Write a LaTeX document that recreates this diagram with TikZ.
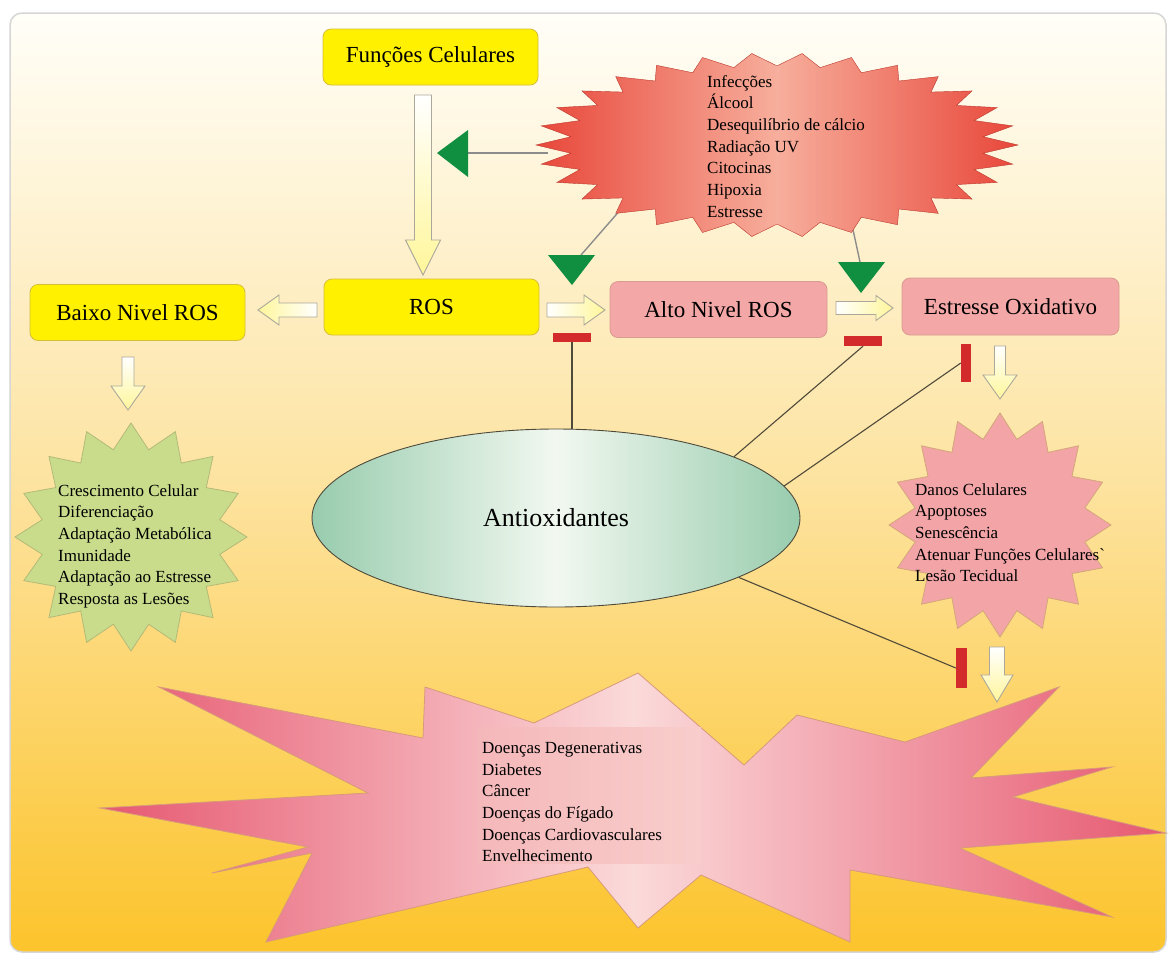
\documentclass[tikz,border=0pt]{standalone}
\usepackage{fontspec}
\setmainfont{Liberation Serif}
\usetikzlibrary{shapes.geometric}
\definecolor{bgtop}{HTML}{FFFEF8}
\definecolor{bgmid}{HTML}{FDE3A0}
\definecolor{bgbot}{HTML}{FCC42C}
\definecolor{panelline}{HTML}{D6D6D6}
\definecolor{boxyellow}{HTML}{FFF100}
\definecolor{yellowline}{HTML}{D6BE3A}
\definecolor{boxpink}{HTML}{F4A7A7}
\definecolor{pinkline}{HTML}{D99A8F}
\definecolor{arrowpale}{HTML}{FFF69A}
\definecolor{arrowline}{HTML}{ABA89B}
\definecolor{trigreen}{HTML}{108F41}
\definecolor{barred}{HTML}{D32B2B}
\definecolor{burstred}{HTML}{E8473A}
\definecolor{burstlight}{HTML}{F7AE9C}
\definecolor{starpink}{HTML}{F2A4A7}
\definecolor{starpinkline}{HTML}{D4A77A}
\definecolor{stargreen}{HTML}{C8DC8C}
\definecolor{stargreenline}{HTML}{B3BA78}
\definecolor{boomred}{HTML}{E65870}
\definecolor{boomlight}{HTML}{FBDADA}
\definecolor{boomline}{HTML}{D79A7A}
\definecolor{dzpink}{HTML}{F5B8BA}
\definecolor{dzlight}{HTML}{F8CDCB}
\definecolor{ellgreen}{HTML}{98CCAE}
\definecolor{ellpale}{HTML}{F2F8F0}
\definecolor{linkgray}{HTML}{8C8C8C}
\definecolor{antiline}{HTML}{4F4A3A}
\tikzset{
  panel/.style={draw=panelline, line width=1.5pt, rounded corners=12pt, top color=bgtop, bottom color=bgbot, middle color=bgmid},
  rosbox/.style={draw=yellowline, fill=boxyellow, rounded corners=8pt, line width=0.8pt, minimum width=215, minimum height=56, inner sep=0pt, font=\fontsize{23}{27}\selectfont},
  rospink/.style={rosbox, draw=pinkline, fill=boxpink},
  fatarrow/.style={draw=arrowline, line width=0.9pt},
  redbar/.style={fill=barred, inner sep=0pt},
  greentri/.style={fill=trigreen},
  linkline/.style={draw=linkgray, line width=1.4pt},
  antilink/.style={draw=antiline, line width=1.1pt},
  redburst/.style={draw=burstred!80!black, line width=0.4pt, left color=burstred, right color=burstred, middle color=burstlight},
  greenstar/.style={draw=stargreenline, line width=0.8pt, fill=stargreen},
  pinkstar/.style={draw=starpinkline, line width=0.8pt, fill=starpink},
  boom/.style={draw=boomline, line width=0.8pt, left color=boomred, right color=boomred, middle color=boomlight},
  antiox/.style={ellipse, draw=antiline, line width=0.9pt, left color=ellgreen, right color=ellgreen, middle color=ellpale, minimum width=488, minimum height=178, font=\fontsize{26}{30}\selectfont},
  listtext/.style={align=left, inner sep=0pt, anchor=north west, font=\fontsize{17}{21.7}\selectfont},
  dzbox/.style={left color=dzpink, right color=dzlight, inner sep=0pt, anchor=north west, minimum width=223, minimum height=136}
}
% block arrows: x, tail y, tip y, shaft half, head half, head length
\newcommand{\fatdown}[6]{%
  \path[fatarrow, top color=white, bottom color=arrowpale]
    ({#1-#4},{#2}) -- ({#1+#4},{#2}) -- ({#1+#4},{#3-#6}) -- ({#1+#5},{#3-#6}) -- ({#1},{#3})
    -- ({#1-#5},{#3-#6}) -- ({#1-#4},{#3-#6}) -- cycle;}
% shading, tail x, tip x, y, shaft half, head half, signed head length
\newcommand{\fatside}[7]{%
  \path[fatarrow,#1] ({#2},{#4-#5}) -- ({#3-(#7)},{#4-#5}) -- ({#3-(#7)},{#4-#6}) -- ({#3},{#4})
    -- ({#3-(#7)},{#4+#6}) -- ({#3-(#7)},{#4+#5}) -- ({#2},{#4+#5}) -- cycle;}
% style, cx, cy, points, rx, ry, inner ratio
\newcommand{\burst}[7]{%
  \pgfmathtruncatemacro{\burstlast}{2*#4-1}
  \path[#1] ({#2+#5},{#3})
    \foreach \k in {1,...,\burstlast} {
      -- ({#2+#5*ifthenelse(isodd(\k),#7,1)*cos(\k*180/#4)},{#3+#6*ifthenelse(isodd(\k),#7,1)*sin(\k*180/#4)})
    } -- cycle;}

\begin{document}
\begin{tikzpicture}[x=1pt,y=-1pt]
  \useasboundingbox (0,0) rectangle (1171,954);
  \fill[white] (0,0) rectangle (1171,954);
  \path[panel] (10,13) rectangle (1166,952);

  % disease burst
  \path[boom] (159,687) -- (423,738) -- (425,687) -- (534,723) -- (638,673) -- (744,765) -- (797,715)
    -- (905,742) -- (1059,687) -- (971,778) -- (1112,767) -- (1013,797) -- (1166,833)
    -- (960,848) -- (1112,917) -- (850,870) -- (850,942) -- (701,875) -- (638,928)
    -- (588,867) -- (266,942) -- (312,853) -- (212,873) -- (308,847) -- (100,808)
    -- (368,793) -- cycle;
  \node[dzbox] (dzbox) at (478,727) {};

  % causes
  \coordinate (burstW) at (548,153);
  \coordinate (burstSW) at (622,208);
  \coordinate (burstS) at (852,225);
  \coordinate (trigL) at (468,153);
  \coordinate (trigM) at (581,255);
  \coordinate (trigR) at (860,262);
  \draw[linkline] (burstW) -- (trigL);
  \draw[linkline] (burstSW) -- (trigM);
  \draw[linkline] (burstS) -- (trigR);
  \burst{redburst}{777}{145}{30}{241}{92}{0.86}

  % effect stars
  \burst{greenstar}{131}{537}{16}{116}{114}{0.78}
  \burst{pinkstar}{1000}{525}{16}{111}{112}{0.78}

  % boxes
  \node[rosbox] (func) at (430.5,57) {Funções Celulares};
  \node[rosbox] (ros) at (431.5,307) {ROS};
  \node[rosbox] (baixo) at (137.5,312.5) {Baixo Nivel ROS};
  \node[rospink, minimum width=217] (alto) at (718.5,309.5) {Alto Nivel ROS};
  \node[rospink, minimum width=217, minimum height=57] (estresse) at (1010.5,306.5) {Estresse Oxidativo};

  % inhibition bars
  \node[redbar, minimum width=38, minimum height=9] (barA) at (572,337) {};
  \node[redbar, minimum width=38, minimum height=10] (barB) at (863,341) {};
  \node[redbar, minimum width=10, minimum height=38] (barC) at (966,363) {};
  \node[redbar, minimum width=11, minimum height=40] (barD) at (961.5,668) {};

  % antioxidants
  \node[antiox] (antiox) at (556,518) {Antioxidantes};
  \draw[antilink] (barA.south) -- (barA.south |- antiox.north);
  \draw[antilink] (barB.south) -- (antiox.19);
  \draw[antilink] (barC.west) -- (antiox.8);
  \draw[antilink] (barD.west) -- (antiox.-18);

  % block arrows
  \fatdown{423}{95}{275}{8.5}{17.5}{35}
  \fatdown{128}{357}{410}{6}{17}{24}
  \fatdown{1000}{346}{399}{5.5}{17}{24}
  \fatdown{997}{647}{702}{7.5}{16}{27}
  \fatside{left color=arrowpale, right color=white}{317}{258}{310}{7}{15}{-21}
  \fatside{left color=white, right color=arrowpale}{547}{605}{310}{7}{15}{21}
  \fatside{left color=white, right color=arrowpale}{836}{893}{308}{6.5}{12.5}{17}

  % activation triangles
  \fill[greentri] (468,130) -- (437,153) -- (468,177) -- cycle;
  \fill[greentri] (548,255) -- (595,255) -- (572,285) -- cycle;
  \fill[greentri] (838,262) -- (885,262) -- (861,293) -- cycle;

  % lists
  \node[listtext] (causes) at (707,75) {Infecções\\Álcool\\Desequilíbrio de cálcio\\Radiação UV\\Citocinas\\Hipoxia\\Estresse};
  \node[listtext] (lowfx) at (58,484) {Crescimento Celular\\Diferenciação\\Adaptação Metabólica\\Imunidade\\Adaptação ao Estresse\\Resposta as Lesões};
  \node[listtext] (highfx) at (915,483) {Danos Celulares\\Apoptoses\\Senescência\\Atenuar Funções Celulares\textasciigrave\\Lesão Tecidual};
  \node[listtext] (diseases) at (482,742) {Doenças Degenerativas\\Diabetes\\Câncer\\Doenças do Fígado\\Doenças Cardiovasculares\\Envelhecimento};

\end{tikzpicture}
\end{document}
